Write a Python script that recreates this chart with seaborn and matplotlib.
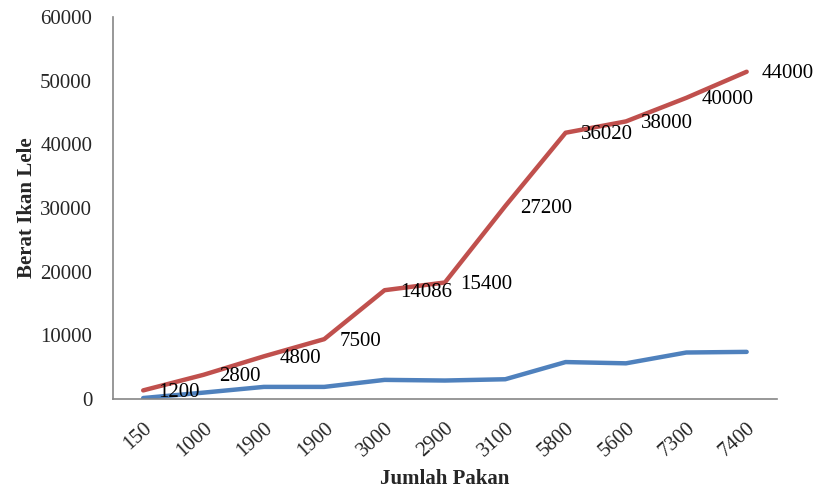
import matplotlib
matplotlib.use("Agg")
import matplotlib.pyplot as plt
import seaborn as sns
import pandas as pd
import numpy as np
from matplotlib.ticker import FixedLocator

# Data
categories = ["150", "1000", "1900", "1900", "3000", "2900", "3100", "5800", "5600", "7300", "7400"]
jumlah_pakan = [150, 1000, 1900, 1900, 3000, 2900, 3100, 5800, 5600, 7300, 7400]
berat_ikan = [1200, 2800, 4800, 7500, 14086, 15400, 27200, 36020, 38000, 40000, 44000]
y_ticks = [0, 10000, 20000, 30000, 40000, 50000, 60000]

sns.set_theme(style="white")
plt.rcParams['font.family'] = ['Liberation Serif', 'DejaVu Serif']

FS = 15
pos = list(range(len(categories)))
stacked = [p + b for p, b in zip(jumlah_pakan, berat_ikan)]
df = pd.DataFrame({"pos": pos + pos,
                   "value": jumlah_pakan + stacked,
                   "series": ["Jumlah Pakan"] * len(pos) + ["Berat Ikan Lele"] * len(pos)})

fig = plt.figure(figsize=(8.16, 4.91), dpi=100)
ax = fig.add_axes([0.1385, 0.1874, 0.952 - 0.1385, 0.9654 - 0.1874])

sns.lineplot(data=df, x="pos", y="value", hue="series",
             palette={"Jumlah Pakan": "#4F81BD", "Berat Ikan Lele": "#C0504D"},
             hue_order=["Jumlah Pakan", "Berat Ikan Lele"],
             linewidth=3.2, legend=False, ax=ax, solid_capstyle='round', solid_joinstyle='round')

for i, (s, b) in enumerate(zip(stacked, berat_ikan)):
    ax.annotate(str(b), xy=(i, s), xytext=(11, -1.5), textcoords="offset points",
                ha="left", va="center", fontsize=FS, color="black")

ax.set_xlim(-0.5, len(categories) - 0.5)
ax.set_ylim(0, 60000)
ax.set_yticks(y_ticks)
ax.set_yticklabels([str(v) for v in y_ticks], fontsize=FS)
ax.set_xticks(pos)
ax.set_xticklabels(categories, rotation=42, ha="right", va="top",
                   rotation_mode="anchor", fontsize=FS)
ax.xaxis.set_minor_locator(FixedLocator(np.arange(-0.5, len(categories), 1.0)))
ax.tick_params(axis="x", which="major", length=0, pad=14)
ax.tick_params(axis="x", which="minor", length=6, width=1.2, color="#868686", direction="out")
ax.tick_params(axis="y", which="major", length=7, width=1.2, color="#868686", direction="out", pad=8)

for side in ["top", "right"]:
    ax.spines[side].set_visible(False)
for side in ["left", "bottom"]:
    ax.spines[side].set_color("#868686")
    ax.spines[side].set_linewidth(1.2)

ax.set_xlabel("")
fig.text((113 + 777) / 2 / 816, 1 - 479 / 491, "Jumlah Pakan", fontsize=FS,
         fontweight="bold", ha="center", va="center")
ax.set_ylabel("Berat Ikan Lele", fontsize=FS, fontweight="bold", labelpad=2)

fig.savefig("out.png", dpi=100)
